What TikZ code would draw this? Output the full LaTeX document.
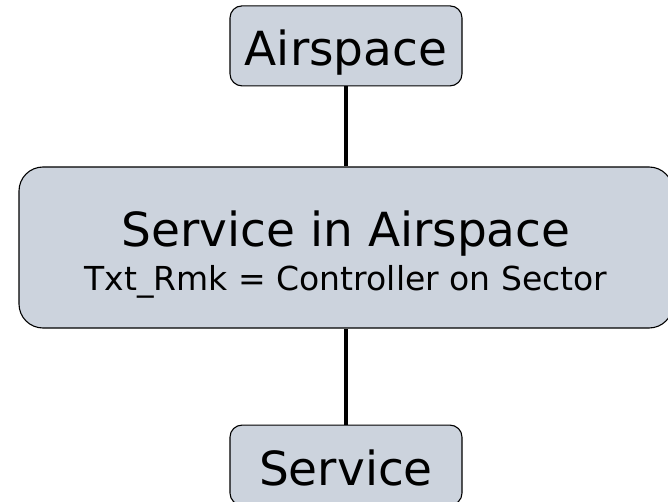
\documentclass[tikz,border=0pt]{standalone}
\usepackage{fontspec}
\setmainfont{DejaVu Sans}
\usetikzlibrary{positioning}
\definecolor{boxfill}{RGB}{204,211,221}

\begin{document}
\begin{tikzpicture}[
        entity/.style={draw=black, line width=1.1pt, fill=boxfill, rounded corners=12pt,
            minimum width=232pt, minimum height=80pt, inner sep=0pt,
            font=\fontsize{47}{50}\selectfont, text height=40pt, text depth=0pt},
        assoc/.style={draw=black, line width=1.1pt, fill=boxfill, rounded corners=24pt,
            minimum width=654pt, minimum height=161pt, inner sep=0pt, align=center},
        link/.style={line width=4.5pt}
    ]
        \useasboundingbox (0pt,0pt) rectangle (668pt,-502pt);
        \node[assoc] (svcair) at (346pt,-247.5pt)
            {{\fontsize{47}{50}\selectfont\rule{0pt}{50pt}Service in Airspace}\\[8pt]
             {\fontsize{33}{40}\selectfont Txt\_Rmk = Controller on Sector}};
        \node[entity, above = 80pt of svcair] (airspace) {Airspace};
        \node[entity, below = 96pt of svcair] (service) {Service};
        \draw[link] (airspace) -- (svcair);
        \draw[link] (svcair) -- (service);
\end{tikzpicture}
\end{document}
